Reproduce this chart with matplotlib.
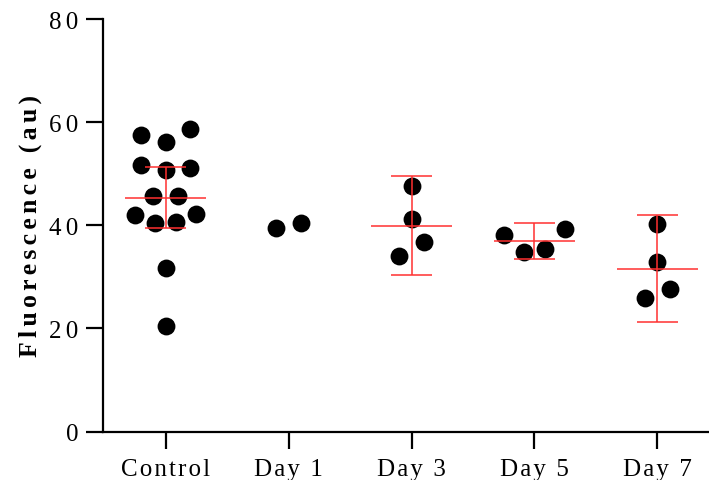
import numpy as np
import matplotlib
matplotlib.use("Agg")
import matplotlib.pyplot as plt

plt.rcParams['font.family'] = ['Liberation Serif', 'DejaVu Serif']

groups = ["Control", "Day 1", "Day 3", "Day 5", "Day 7"]

# fluorescence per sample (au)
control = [57.5, 56.1, 58.7, 51.6, 50.7, 51.2, 45.7, 45.6, 42.0, 40.4, 40.7, 42.2, 31.8, 20.5]
day1 = [39.5, 40.4]
day3 = [47.7, 41.2, 36.7, 34.1]
day5 = [38.2, 34.9, 35.3, 39.3]
day7 = [40.2, 32.8, 27.6, 25.8]

# horizontal spread of the dots inside each column (swarm layout)
control_dx = [-0.2, 0.0, 0.2, -0.2, 0.0, 0.2, -0.1, 0.1, -0.25, -0.085, 0.085, 0.25, 0.0, 0.0]
day1_dx = [-0.1, 0.1]
day3_dx = [0.0, 0.0, 0.1, -0.1]
day5_dx = [-0.25, -0.085, 0.085, 0.25]
day7_dx = [0.0, 0.0, 0.1, -0.1]

# 95% CI half-widths (no bar drawn for Day 1)
ci = [5.9, None, 9.6, 3.5, 10.3]

values = [control, day1, day3, day5, day7]
offsets = [control_dx, day1_dx, day3_dx, day5_dx, day7_dx]

HAIR = "\u200a"


def spaced(s, sep=HAIR):
    return sep.join(s)


fig = plt.figure(figsize=(7.09, 4.81), dpi=100)
ax = fig.add_axes([0.1453, 0.1008, 0.8547, 0.8576])

for i, (vals, dx) in enumerate(zip(values, offsets)):
    ax.scatter(np.array(dx) + i, vals, s=165, color="black", zorder=3, linewidths=0)
    if ci[i] is None:
        continue
    m = np.mean(vals)
    ax.hlines(m, i - 0.33, i + 0.33, color="#ff3030", lw=1.1, zorder=4)
    ax.vlines(i, m - ci[i], m + ci[i], color="#ff3030", lw=1.1, zorder=4)
    ax.hlines([m - ci[i], m + ci[i]], i - 0.165, i + 0.165, color="#ff3030", lw=1.1, zorder=4)

ax.set_xlim(-0.51, 4.42)
ax.set_ylim(0, 80)
ax.set_yticks([0, 20, 40, 60, 80])
ax.set_yticklabels([spaced(str(t), HAIR * 2) for t in [0, 20, 40, 60, 80]], fontsize=18)
ax.set_xticks(range(len(groups)))
ax.set_xticklabels([spaced(g) for g in groups], fontsize=18)
ax.set_ylabel(spaced("Fluorescence (au)", HAIR * 2), fontsize=18.5, fontweight="bold", labelpad=5)

for side in ["top", "right"]:
    ax.spines[side].set_visible(False)
for side in ["left", "bottom"]:
    ax.spines[side].set_linewidth(1.6)
ax.tick_params(length=12, width=1.6, pad=6)
ax.tick_params(axis="x", pad=7)

fig.savefig("out.png", dpi=100)
